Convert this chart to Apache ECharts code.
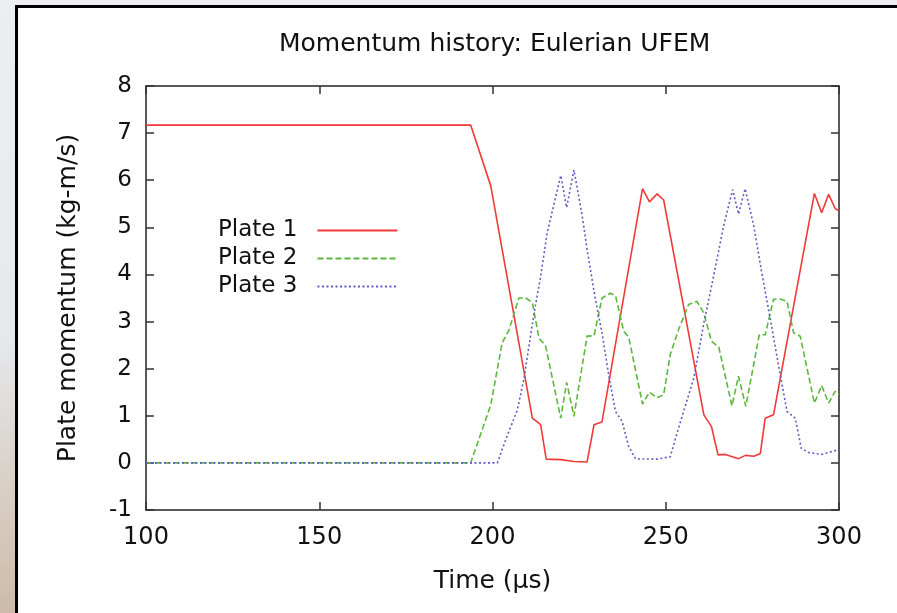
<!DOCTYPE html>
<html>
<head>
<meta charset="utf-8">
<script src="https://cdn.jsdelivr.net/npm/echarts@6/dist/echarts.min.js"></script>
<style>
  html, body { margin: 0; padding: 0; }
  body {
    width: 897px; height: 613px; overflow: hidden; position: relative;
    background: linear-gradient(180deg, #eceef2 0%, #e6e8ec 55%, #d9cfc4 80%, #cdbba8 100%);
  }
  #frame {
    position: absolute; left: 15px; top: 5px; width: 900px; height: 620px;
    border: 3px solid #000; background: #fff;
  }
  #main { position: absolute; left: 0; top: 0; width: 897px; height: 613px; }
</style>
</head>
<body>
<div id="frame"></div>
<div id="main"></div>
<script>
// 读图估计的数据: [时间 µs, 动量 kg-m/s]
var plate1 = [[100,7.17],[193.7,7.17],[199.5,5.88],[211.5,0.95],[213.9,0.81],[215.5,0.08],[219.7,0.07],
  [223.5,0.03],[227.3,0.02],[229.3,0.81],[231.6,0.87],[243.3,5.82],[245.3,5.54],[247.5,5.71],[249.4,5.58],
  [261,1.02],[263.2,0.77],[265.1,0.17],[267.2,0.18],[271,0.09],[273,0.16],[275.4,0.14],[277.3,0.2],
  [278.7,0.95],[281.1,1.02],[292.9,5.72],[295,5.31],[297,5.7],[298.9,5.4],[300,5.35]];
var plate2 = [[100,0],[193.7,0],[199.5,1.23],[202.8,2.55],[204.8,2.83],[207.6,3.5],[209.6,3.5],[211.5,3.4],
  [213.4,2.65],[215.3,2.49],[219.7,0.95],[221.4,1.71],[223.5,0.99],[227.3,2.69],[229.3,2.7],[231.6,3.5],
  [234,3.6],[235.5,3.55],[237.9,2.79],[239.3,2.67],[243.3,1.25],[245.3,1.5],[247.5,1.38],[249.4,1.45],
  [251.3,2.3],[253.7,2.83],[256.6,3.36],[259,3.43],[261,3.18],[263.2,2.58],[265.3,2.46],[269.1,1.21],
  [271,1.84],[273.1,1.2],[277,2.72],[278.7,2.72],[281.1,3.47],[283,3.48],[285,3.43],[286.9,2.76],
  [288.8,2.69],[292.9,1.27],[295,1.64],[297,1.27],[298.9,1.52],[300,1.45]];
var plate3 = [[100,0],[201.4,0],[203.8,0.49],[207.2,1.13],[209.1,1.8],[212,3.18],[213.9,3.96],[215.8,4.89],
  [219.7,6.1],[221.4,5.42],[223.5,6.22],[225.9,5.24],[227.3,4.53],[229.7,3.47],[231.6,2.76],[233.6,1.84],
  [235.5,1.09],[237.4,0.88],[239.3,0.35],[241.3,0.085],[247.5,0.08],[251.3,0.13],[253.7,0.74],[258.1,1.8],
  [261,2.97],[263.8,3.96],[266.7,5.03],[269.3,5.8],[271,5.28],[272.9,5.82],[275.4,5.03],[277.7,4.04],
  [280.2,3.04],[282.6,2.05],[285,1.09],[287.4,0.95],[289.1,0.31],[291.2,0.22],[295,0.18],[298.9,0.26],[300,0.27]];
var seriesNames = ["Plate 1", "Plate 2", "Plate 3"];

var font = "DejaVu Sans, sans-serif";
var myChart = echarts.init(document.getElementById("main"));

var axisLine = { show: true, onZero: false, lineStyle: { color: "#222", width: 1.5 } };
var tick = { show: true, inside: true, length: 8, lineStyle: { color: "#333", width: 1.5 } };

myChart.setOption({
  animation: false,
  backgroundColor: "transparent",
  title: {
    text: "Momentum history: Eulerian UFEM",
    left: 274, top: 27,
    textStyle: { fontFamily: font, fontSize: 25, fontWeight: "normal", color: "#111" }
  },
  legend: {
    orient: "vertical",
    align: "right",  // 文字在前图标在后
    left: 213, top: 214,
    itemWidth: 80, itemHeight: 12, itemGap: 5,
    data: seriesNames,
    itemStyle: { opacity: 0 },  // 图例里不画圆点
    textStyle: { fontFamily: font, fontSize: 23, color: "#111", padding: [0, 15, 0, 0] }
  },
  grid: { left: 146, right: 58, top: 86, bottom: 103 },
  xAxis: [
    {
      type: "value", min: 100, max: 300, interval: 50,
      name: "Time (\u00b5s)", nameLocation: "middle", nameGap: 59,
      nameTextStyle: { fontFamily: font, fontSize: 25, color: "#111" },
      axisLine: axisLine, axisTick: tick, splitLine: { show: false },
      axisLabel: { fontFamily: font, fontSize: 24, color: "#111", margin: 16 }
    },
    {
      type: "value", position: "top", min: 100, max: 300, interval: 50,
      axisLine: axisLine, axisTick: tick, splitLine: { show: false },
      axisLabel: { show: false }
    }
  ],
  yAxis: [
    {
      type: "value", min: -1, max: 8, interval: 1,
      name: "Plate momentum (kg-m/s)", nameLocation: "middle", nameGap: 65,
      nameTextStyle: { fontFamily: font, fontSize: 25, color: "#111" },
      axisLine: axisLine, axisTick: tick, splitLine: { show: false },
      axisLabel: { fontFamily: font, fontSize: 23, color: "#111", margin: 14 }
    },
    {
      type: "value", position: "right", min: -1, max: 8, interval: 1,
      axisLine: axisLine, axisTick: tick, splitLine: { show: false },
      axisLabel: { show: false }
    }
  ],
  series: [
    {
      name: seriesNames[0], type: "line", data: plate1, symbol: "none",
      itemStyle: { color: "#f03a3a" },
      lineStyle: { color: "#f03a3a", width: 1.6, type: "solid" }
    },
    {
      name: seriesNames[1], type: "line", data: plate2, symbol: "none",
      itemStyle: { color: "#5cb83c" },
      lineStyle: { color: "#5cb83c", width: 1.6, type: [6, 3] }
    },
    {
      name: seriesNames[2], type: "line", data: plate3, symbol: "none",
      itemStyle: { color: "#5c5cc4" },
      lineStyle: { color: "#5c5cc4", width: 1.6, type: [2, 2.5] }
    }
  ]
});
</script>
</body>
</html>
